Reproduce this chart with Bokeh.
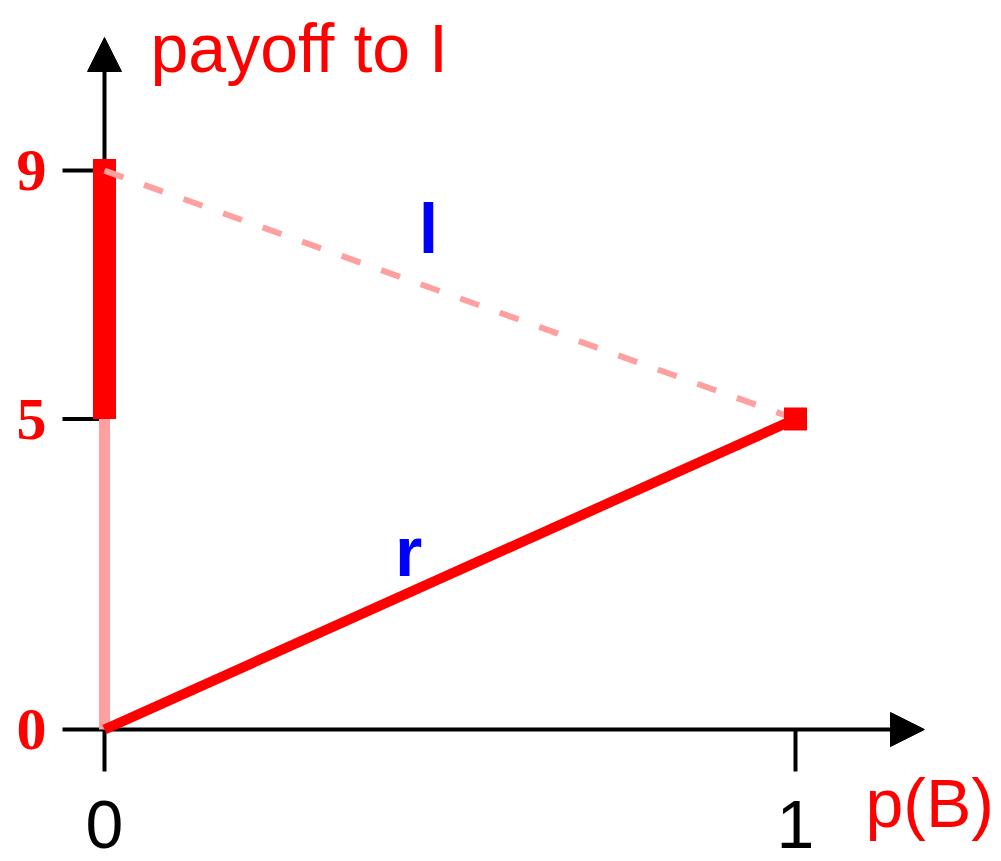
import math
from bokeh.plotting import figure
from bokeh.models import Range1d, Arrow, NormalHead
from bokeh.core.properties import value
from bokeh.embed import file_html
from bokeh.resources import INLINE

# ---- data ----
x_ticks = [0, 1]
x_tick_labels = ["0", "1"]
y_ticks = [0, 5, 9]
y_tick_labels = ["0", "5", "9"]

# payoffs to player I as p(B) goes from 0 to 1
l_x = [0, 1]
l_y = [9, 5]        # payoff of strategy l
r_x = [0, 1]
r_y = [0, 5]        # payoff of strategy r
best_seg_x = [0, 0]
best_seg_y = [5, 9]  # thick part at p(B)=0
low_seg_x = [0, 0]
low_seg_y = [0, 5]
best_pt_x = [1]
best_pt_y = [5]

# ---- layout (pixel constants) ----
W, H = 1001, 861
PX0, PXS = 104, 691.0        # pixel x of p=0, px per unit
PY0, PYS = 729, 62.1         # pixel y of payoff 0, px per unit
FIX = 25                     # baseline correction in px


def dx(cx):
    return (cx - PX0) / PXS


def dy(cy):
    return (PY0 - cy) / PYS


p = figure(width=W, height=H, output_backend="svg", toolbar_location=None,
           x_range=Range1d(dx(0), dx(W)), y_range=Range1d(dy(H), dy(0)),
           min_border=0, x_axis_location=None, y_axis_location=None,
           outline_line_color=None)
p.grid.visible = False
p.title.visible = False
p.background_fill_color = "white"
p.border_fill_color = "white"

RED = "#ff0000"
PINK = "#ffa0a0"
BLUE = "#0000ff"

# axes with arrows (below the glyphs)
p.add_layout(Arrow(x_start=0, y_start=0, x_end=dx(924), y_end=0, level="underlay",
                   line_width=4, line_color="black",
                   end=NormalHead(size=34, fill_color="black", line_color="black", line_width=1)))
p.add_layout(Arrow(x_start=0, y_start=0, x_end=0, y_end=dy(37), level="underlay",
                   line_width=4, line_color="black",
                   end=NormalHead(size=34, fill_color="black", line_color="black", line_width=1)))

# ticks
p.ray(x=[0] * len(y_ticks), y=y_ticks, length=42, length_units="screen",
      angle=math.pi, line_width=4, line_color="black")
p.ray(x=x_ticks, y=[0] * len(x_ticks), length=42, length_units="screen",
      angle=-math.pi / 2, line_width=4, line_color="black")

# tick labels
p.text(x=[0] * len(y_ticks), y=y_ticks, text=y_tick_labels, x_offset=-58, y_offset=0,
       text_align="right", text_baseline="middle", text_color=RED,
       text_font=value("Liberation Serif"), text_font_style="bold", text_font_size="60px")
p.text(x=x_ticks, y=[0] * len(x_ticks), text=x_tick_labels, y_offset=849 - 729 - FIX,
       text_align="center", text_baseline="alphabetic", text_color="black",
       text_font=value("Liberation Sans"), text_font_size="68px")

# payoff lines
p.line(low_seg_x, low_seg_y, line_color=PINK, line_width=11)
p.line(best_seg_x, best_seg_y, line_color=RED, line_width=23, line_cap="butt")
p.scatter(best_seg_x[-1:], best_seg_y[-1:], marker="square", size=23,
          fill_color=RED, line_color=None)
p.line(l_x, l_y, line_color=PINK, line_width=6, line_dash="20 22")
p.line(r_x, r_y, line_color=RED, line_width=10)
p.scatter(best_pt_x, best_pt_y, marker="square", size=23, fill_color=RED, line_color=None)

# texts
p.text(x=[dx(150)], y=[dy(72 - FIX)], text=["payoff to I"], text_align="left",
       text_baseline="alphabetic", text_color=RED,
       text_font=value("Liberation Sans"), text_font_size="68px")
p.text(x=[dx(865)], y=[dy(827 - FIX)], text=["p(B)"], text_align="left",
       text_baseline="alphabetic", text_color=RED,
       text_font=value("Liberation Sans"), text_font_size="68px")
p.text(x=[dx(428)], y=[dy(253 - FIX)], text=["l"], text_align="center",
       text_baseline="alphabetic", text_color=BLUE,
       text_font=value("Liberation Sans"), text_font_style="bold", text_font_size="70px")
p.text(x=[dx(408)], y=[dy(576 - FIX)], text=["r"], text_align="center",
       text_baseline="alphabetic", text_color=BLUE,
       text_font=value("Liberation Sans"), text_font_style="bold", text_font_size="70px")

open("out.html", "w").write(file_html(p, INLINE))
